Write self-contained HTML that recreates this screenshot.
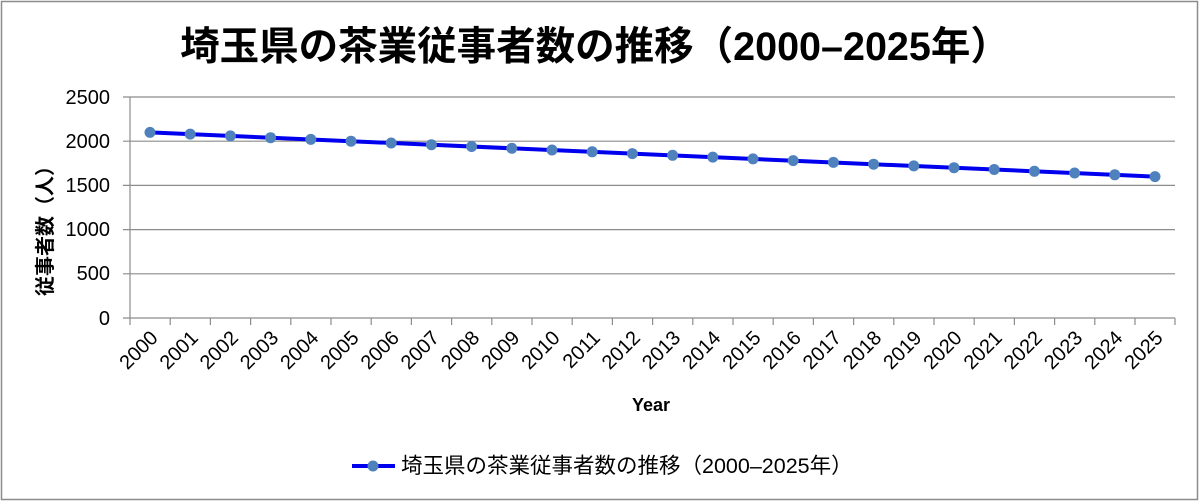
<!DOCTYPE html>
<html><head><meta charset="utf-8"><style>
body{margin:0;background:#fff}
svg{display:block}
text{font-family:"Liberation Sans","Noto Sans CJK JP",sans-serif;fill:#000}
</style></head><body>
<svg width="1200" height="502" viewBox="0 0 1200 502">
<rect x="1.5" y="1.5" width="1196" height="498" fill="#fff" stroke="#8c8c8c" stroke-width="1.5"/>
<text x="595" y="60" font-size="39.5" font-weight="bold" text-anchor="middle">埼玉県の茶業従事者数の推移（2000–2025年）</text>
<g stroke="#8c8c8c" stroke-width="1.2">
<line x1="123" y1="97" x2="1175" y2="97"/>
<line x1="123" y1="141.2" x2="1175" y2="141.2"/>
<line x1="123" y1="185.4" x2="1175" y2="185.4"/>
<line x1="123" y1="229.6" x2="1175" y2="229.6"/>
<line x1="123" y1="273.8" x2="1175" y2="273.8"/>
<line x1="123" y1="318" x2="1175" y2="318"/>
<line x1="130" y1="97" x2="130" y2="325"/>
</g>
<g stroke="#8c8c8c" stroke-width="1.2">
<line x1="170.2" y1="318" x2="170.2" y2="325"/><line x1="210.4" y1="318" x2="210.4" y2="325"/><line x1="250.6" y1="318" x2="250.6" y2="325"/><line x1="290.8" y1="318" x2="290.8" y2="325"/><line x1="331" y1="318" x2="331" y2="325"/><line x1="371.2" y1="318" x2="371.2" y2="325"/><line x1="411.4" y1="318" x2="411.4" y2="325"/><line x1="451.6" y1="318" x2="451.6" y2="325"/><line x1="491.8" y1="318" x2="491.8" y2="325"/><line x1="532" y1="318" x2="532" y2="325"/><line x1="572.2" y1="318" x2="572.2" y2="325"/><line x1="612.4" y1="318" x2="612.4" y2="325"/><line x1="652.6" y1="318" x2="652.6" y2="325"/><line x1="692.8" y1="318" x2="692.8" y2="325"/><line x1="733" y1="318" x2="733" y2="325"/><line x1="773.2" y1="318" x2="773.2" y2="325"/><line x1="813.4" y1="318" x2="813.4" y2="325"/><line x1="853.6" y1="318" x2="853.6" y2="325"/><line x1="893.8" y1="318" x2="893.8" y2="325"/><line x1="934" y1="318" x2="934" y2="325"/><line x1="974.2" y1="318" x2="974.2" y2="325"/><line x1="1014.4" y1="318" x2="1014.4" y2="325"/><line x1="1054.6" y1="318" x2="1054.6" y2="325"/><line x1="1094.8" y1="318" x2="1094.8" y2="325"/><line x1="1135" y1="318" x2="1135" y2="325"/><line x1="1175" y1="318" x2="1175" y2="325"/>
</g>
<g font-size="20" text-anchor="end">
<text x="110" y="104">2500</text><text x="110" y="148">2000</text><text x="110" y="192">1500</text><text x="110" y="236">1000</text><text x="110" y="280">500</text><text x="110" y="325">0</text>
</g>
<g font-size="20" text-anchor="end">
<text transform="translate(159,339) rotate(-45)">2000</text>
<text transform="translate(199.2,339) rotate(-45)">2001</text>
<text transform="translate(239.4,339) rotate(-45)">2002</text>
<text transform="translate(279.6,339) rotate(-45)">2003</text>
<text transform="translate(319.8,339) rotate(-45)">2004</text>
<text transform="translate(360,339) rotate(-45)">2005</text>
<text transform="translate(400.2,339) rotate(-45)">2006</text>
<text transform="translate(440.4,339) rotate(-45)">2007</text>
<text transform="translate(480.6,339) rotate(-45)">2008</text>
<text transform="translate(520.8,339) rotate(-45)">2009</text>
<text transform="translate(561,339) rotate(-45)">2010</text>
<text transform="translate(601.2,339) rotate(-45)">2011</text>
<text transform="translate(641.4,339) rotate(-45)">2012</text>
<text transform="translate(681.6,339) rotate(-45)">2013</text>
<text transform="translate(721.8,339) rotate(-45)">2014</text>
<text transform="translate(762,339) rotate(-45)">2015</text>
<text transform="translate(802.2,339) rotate(-45)">2016</text>
<text transform="translate(842.4,339) rotate(-45)">2017</text>
<text transform="translate(882.6,339) rotate(-45)">2018</text>
<text transform="translate(922.8,339) rotate(-45)">2019</text>
<text transform="translate(963,339) rotate(-45)">2020</text>
<text transform="translate(1003.2,339) rotate(-45)">2021</text>
<text transform="translate(1043.4,339) rotate(-45)">2022</text>
<text transform="translate(1083.6,339) rotate(-45)">2023</text>
<text transform="translate(1123.8,339) rotate(-45)">2024</text>
<text transform="translate(1164,339) rotate(-45)">2025</text>
</g>
<text x="651" y="411" font-size="18" font-weight="bold" text-anchor="middle">Year</text>
<text transform="translate(52,226) rotate(-90)" font-size="20" font-weight="bold" text-anchor="middle">従事者数（人）</text>
<polyline fill="none" stroke="#0000ee" stroke-width="4" points="150,132.4 1155,176.6"/>
<g fill="#4f81bd">
<circle cx="150" cy="132.4" r="5.5"/><circle cx="190.2" cy="134.1" r="5.5"/><circle cx="230.4" cy="135.9" r="5.5"/><circle cx="270.6" cy="137.7" r="5.5"/><circle cx="310.8" cy="139.4" r="5.5"/><circle cx="351" cy="141.2" r="5.5"/><circle cx="391.2" cy="143" r="5.5"/><circle cx="431.4" cy="144.7" r="5.5"/><circle cx="471.6" cy="146.5" r="5.5"/><circle cx="511.8" cy="148.3" r="5.5"/><circle cx="552" cy="150" r="5.5"/><circle cx="592.2" cy="151.8" r="5.5"/><circle cx="632.4" cy="153.6" r="5.5"/><circle cx="672.6" cy="155.3" r="5.5"/><circle cx="712.8" cy="157.1" r="5.5"/><circle cx="753" cy="158.9" r="5.5"/><circle cx="793.2" cy="160.6" r="5.5"/><circle cx="833.4" cy="162.4" r="5.5"/><circle cx="873.6" cy="164.2" r="5.5"/><circle cx="913.8" cy="165.9" r="5.5"/><circle cx="954" cy="167.7" r="5.5"/><circle cx="994.2" cy="169.5" r="5.5"/><circle cx="1034.4" cy="171.3" r="5.5"/><circle cx="1074.6" cy="173" r="5.5"/><circle cx="1114.8" cy="174.8" r="5.5"/><circle cx="1155" cy="176.6" r="5.5"/>
</g>
<line x1="352" y1="466" x2="395" y2="466" stroke="#0000ee" stroke-width="4"/>
<circle cx="373" cy="466" r="5.5" fill="#4f81bd"/>
<text x="401" y="473" font-size="21.5">埼玉県の茶業従事者数の推移（2000–2025年）</text>
</svg>
</body></html>
